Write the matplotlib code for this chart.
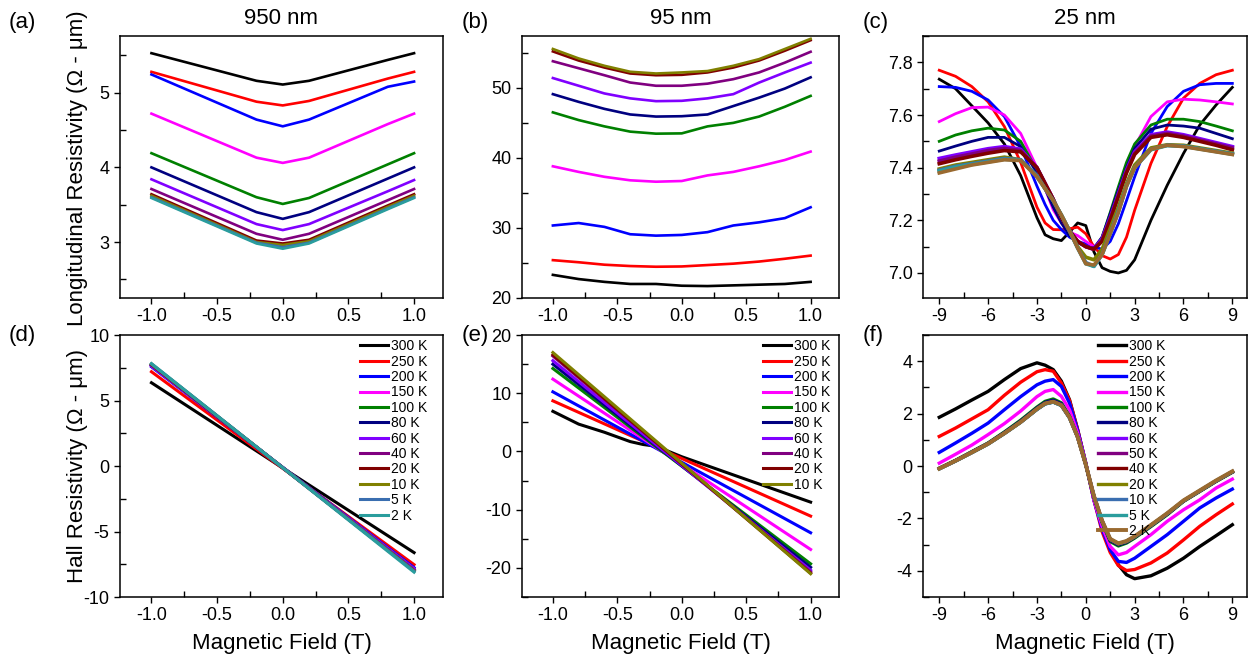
import matplotlib
matplotlib.use("Agg")
import matplotlib.pyplot as plt
from matplotlib.ticker import MultipleLocator

plt.rcParams['font.family'] = ['Liberation Sans', 'DejaVu Sans']
plt.rcParams['axes.unicode_minus'] = False

# ---- data ----
temps_12 = ["300 K", "250 K", "200 K", "150 K", "100 K", "80 K", "60 K",
            "40 K", "20 K", "10 K", "5 K", "2 K"]
temps_10 = ["300 K", "250 K", "200 K", "150 K", "100 K", "80 K", "60 K",
            "40 K", "20 K", "10 K"]
temps_13 = ["300 K", "250 K", "200 K", "150 K", "100 K", "80 K", "60 K",
            "50 K", "40 K", "20 K", "10 K", "5 K", "2 K"]

colors_12 = ["#000000", "#ff0000", "#0000ff", "#ff00ff", "#008000", "#000080",
             "#8000ff", "#800080", "#800000", "#808000", "#3a6eb0", "#2a9d9d"]
colors_10 = colors_12[:10]
colors_13 = ["#000000", "#ff0000", "#0000ff", "#ff00ff", "#008000", "#000080",
             "#8000ff", "#800080", "#800000", "#808000", "#3a6eb0", "#2a9d9d",
             "#9a6a30"]

# (a) 950 nm longitudinal
field_a = [-1.0, -0.2, 0.0, 0.2, 0.8, 1.0]
rxx_950 = [
    [5.53, 5.16, 5.11, 5.16, 5.44, 5.53],
    [5.28, 4.88, 4.83, 4.89, 5.19, 5.28],
    [5.245, 4.64, 4.55, 4.64, 5.08, 5.15],
    [4.72, 4.13, 4.06, 4.13, 4.58, 4.72],
    [4.19, 3.60, 3.51, 3.59, 4.04, 4.19],
    [4.00, 3.40, 3.31, 3.40, 3.85, 4.00],
    [3.84, 3.24, 3.16, 3.24, 3.68, 3.83],
    [3.71, 3.11, 3.03, 3.11, 3.56, 3.71],
    [3.64, 3.02, 2.98, 3.03, 3.49, 3.64],
    [3.62, 3.00, 2.96, 3.01, 3.47, 3.62],
    [3.60, 2.99, 2.93, 2.99, 3.45, 3.60],
    [3.59, 2.98, 2.91, 2.98, 3.44, 3.59],
]

# (b) 95 nm longitudinal
field_b = [-1.0, -0.8, -0.6, -0.4, -0.2, 0.0, 0.2, 0.4, 0.6, 0.8, 1.0]
rxx_95 = [
    [23.3, 22.7, 22.3, 22.0, 22.0, 21.75, 21.7, 21.8, 21.9, 22.0, 22.3],
    [25.4, 25.1, 24.75, 24.56, 24.46, 24.5, 24.7, 24.9, 25.2, 25.6, 26.05],
    [30.35, 30.7, 30.15, 29.1, 28.9, 29.0, 29.4, 30.35, 30.8, 31.4, 32.95],
    [38.8, 38.0, 37.3, 36.8, 36.6, 36.7, 37.5, 38.0, 38.8, 39.7, 40.9],
    [46.5, 45.4, 44.5, 43.75, 43.46, 43.5, 44.5, 45.0, 45.9, 47.3, 48.85],
    [49.1, 48.0, 47.0, 46.2, 45.9, 45.95, 46.2, 47.4, 48.6, 49.9, 51.5],
    [51.4, 50.3, 49.2, 48.5, 48.1, 48.15, 48.5, 49.1, 50.75, 52.2, 53.6],
    [53.8, 52.8, 51.8, 50.76, 50.3, 50.3, 50.6, 51.24, 52.2, 53.6, 55.15],
    [55.2, 53.9, 52.9, 52.05, 51.8, 51.86, 52.2, 52.9, 53.9, 55.3, 56.8],
    [55.55, 54.2, 53.15, 52.3, 52.05, 52.2, 52.4, 53.15, 54.1, 55.55, 57.0],
]

# (c), (f) 25 nm
field_c = [-9, -8, -7, -6, -5, -4, -3, -2.5, -2, -1.5, -1, -0.5, 0,
           0.5, 1, 1.5, 2, 2.5, 3, 4, 5, 6, 7, 8, 9]
rxx_25 = [
    [7.736, 7.70, 7.635, 7.57, 7.49, 7.37, 7.21, 7.145, 7.13, 7.123, 7.155, 7.19, 7.18,
     7.08, 7.02, 7.006, 7.0, 7.01, 7.05, 7.2, 7.333, 7.454, 7.562, 7.638, 7.705],
    [7.77, 7.747, 7.708, 7.65, 7.556, 7.42, 7.25, 7.19, 7.165, 7.164, 7.168, 7.174, 7.149,
     7.1, 7.066, 7.053, 7.07, 7.136, 7.238, 7.416, 7.556, 7.664, 7.72, 7.753, 7.77],
    [7.708, 7.705, 7.69, 7.657, 7.594, 7.48, 7.33, 7.26, 7.2, 7.165, 7.136, 7.12, 7.11,
     7.10, 7.09, 7.12, 7.187, 7.275, 7.365, 7.53, 7.632, 7.69, 7.715, 7.72, 7.72],
    [7.575, 7.605, 7.628, 7.63, 7.60, 7.53, 7.40, 7.32, 7.24, 7.19, 7.155, 7.142, 7.12,
     7.10, 7.12, 7.19, 7.295, 7.39, 7.48, 7.594, 7.65, 7.66, 7.657, 7.65, 7.642],
    [7.50, 7.524, 7.54, 7.55, 7.543, 7.50, 7.39, 7.33, 7.26, 7.20, 7.149, 7.12, 7.10,
     7.09, 7.136, 7.23, 7.327, 7.42, 7.49, 7.562, 7.584, 7.584, 7.575, 7.558, 7.54],
    [7.463, 7.482, 7.50, 7.515, 7.515, 7.48, 7.38, 7.32, 7.25, 7.19, 7.142, 7.115, 7.10,
     7.095, 7.136, 7.225, 7.314, 7.40, 7.473, 7.546, 7.562, 7.558, 7.55, 7.53, 7.51],
    [7.435, 7.448, 7.46, 7.472, 7.48, 7.47, 7.40, 7.34, 7.28, 7.21, 7.16, 7.12, 7.10,
     7.09, 7.13, 7.21, 7.30, 7.39, 7.46, 7.525, 7.535, 7.525, 7.51, 7.495, 7.48],
    [7.425, 7.44, 7.452, 7.465, 7.473, 7.465, 7.40, 7.34, 7.28, 7.21, 7.16, 7.12, 7.10,
     7.09, 7.125, 7.205, 7.295, 7.385, 7.455, 7.52, 7.53, 7.52, 7.505, 7.49, 7.475],
    [7.415, 7.43, 7.443, 7.455, 7.465, 7.46, 7.40, 7.34, 7.28, 7.21, 7.16, 7.12, 7.10,
     7.09, 7.12, 7.20, 7.29, 7.38, 7.45, 7.515, 7.525, 7.515, 7.50, 7.485, 7.468],
    [7.395, 7.41, 7.42, 7.43, 7.44, 7.43, 7.37, 7.32, 7.275, 7.22, 7.16, 7.10, 7.06,
     7.05, 7.09, 7.17, 7.25, 7.34, 7.41, 7.475, 7.487, 7.485, 7.475, 7.465, 7.455],
    [7.39, 7.405, 7.415, 7.425, 7.435, 7.43, 7.37, 7.32, 7.275, 7.22, 7.16, 7.095, 7.04,
     7.025, 7.07, 7.15, 7.235, 7.33, 7.40, 7.47, 7.485, 7.482, 7.472, 7.462, 7.452],
    [7.387, 7.402, 7.412, 7.422, 7.432, 7.428, 7.365, 7.32, 7.275, 7.22, 7.16, 7.095, 7.035,
     7.025, 7.07, 7.15, 7.232, 7.33, 7.40, 7.468, 7.484, 7.481, 7.471, 7.461, 7.451],
    [7.38, 7.395, 7.41, 7.42, 7.43, 7.427, 7.365, 7.32, 7.275, 7.22, 7.16, 7.095, 7.035,
     7.03, 7.07, 7.15, 7.23, 7.33, 7.40, 7.47, 7.485, 7.48, 7.47, 7.46, 7.45],
]

# (d) 950 nm Hall
field_d = [-1.0, 0.0, 1.0]
rxy_950 = [
    [6.36, -0.15, -6.61],
    [7.20, -0.18, -7.53],
    [7.58, -0.10, -7.76],
    [7.65, -0.12, -7.85],
    [7.70, -0.12, -7.90],
    [7.72, -0.13, -7.95],
    [7.68, -0.12, -7.90],
    [7.72, -0.14, -7.97],
    [7.75, -0.14, -8.00],
    [7.78, -0.12, -8.00],
    [7.80, -0.12, -8.03],
    [7.82, -0.14, -8.10],
]

# (e) 95 nm Hall
field_e_300 = [-1.0, -0.8, -0.6, -0.4, -0.3, -0.2, 0.0, 0.5, 1.0]
rxy_95_300 = [6.9, 4.7, 3.3, 1.7, 1.2, 0.9, -0.9, -4.8, -8.7]
field_e = [-1.0, 1.0]
rxy_95 = [
    [8.7, -11.1],
    [10.25, -13.96],
    [12.43, -16.83],
    [14.26, -19.3],
    [15.0, -19.9],
    [15.6, -20.4],
    [16.4, -20.7],
    [16.6, -20.9],
    [17.0, -21.0],
]

rxy_25 = [
    [1.86, 2.18, 2.52, 2.85, 3.30, 3.72, 3.94, 3.85, 3.68, 3.24, 2.53, 1.39, 0.11,
     -1.29, -2.30, -3.20, -3.77, -4.15, -4.30, -4.19, -3.90, -3.52, -3.07, -2.66, -2.24],
    [1.13, 1.45, 1.80, 2.15, 2.70, 3.20, 3.60, 3.68, 3.62, 3.17, 2.50, 1.38, 0.10,
     -1.29, -2.50, -3.30, -3.80, -3.99, -3.95, -3.70, -3.32, -2.82, -2.30, -1.86, -1.45],
    [0.52, 0.88, 1.25, 1.64, 2.15, 2.65, 3.10, 3.24, 3.30, 3.04, 2.40, 1.35, 0.10,
     -1.30, -2.40, -3.20, -3.64, -3.68, -3.52, -3.07, -2.62, -2.11, -1.60, -1.22, -0.88],
    [0.11, 0.45, 0.80, 1.20, 1.62, 2.10, 2.65, 2.85, 2.92, 2.66, 2.15, 1.26, 0.10,
     -1.30, -2.30, -3.07, -3.39, -3.30, -3.07, -2.62, -2.11, -1.67, -1.29, -0.84, -0.50],
    [-0.08, 0.22, 0.55, 0.88, 1.30, 1.75, 2.25, 2.47, 2.56, 2.41, 1.90, 1.13, 0.05,
     -1.20, -2.15, -2.88, -3.05, -2.94, -2.75, -2.31, -1.86, -1.35, -0.97, -0.59, -0.24],
    [-0.09, 0.21, 0.54, 0.87, 1.28, 1.72, 2.22, 2.43, 2.51, 2.38, 1.88, 1.12, 0.05,
     -1.18, -2.12, -2.84, -3.01, -2.91, -2.72, -2.29, -1.84, -1.34, -0.96, -0.58, -0.23],
    [-0.10, 0.20, 0.52, 0.85, 1.25, 1.68, 2.17, 2.38, 2.45, 2.32, 1.85, 1.10, 0.05,
     -1.15, -2.10, -2.80, -2.97, -2.88, -2.70, -2.27, -1.82, -1.33, -0.95, -0.57, -0.22],
    [-0.10, 0.20, 0.52, 0.85, 1.25, 1.68, 2.17, 2.38, 2.45, 2.32, 1.85, 1.10, 0.05,
     -1.15, -2.10, -2.80, -2.97, -2.88, -2.70, -2.27, -1.82, -1.33, -0.95, -0.57, -0.22],
    [-0.10, 0.20, 0.52, 0.85, 1.25, 1.68, 2.17, 2.38, 2.45, 2.32, 1.85, 1.10, 0.05,
     -1.15, -2.10, -2.80, -2.97, -2.88, -2.70, -2.27, -1.82, -1.33, -0.95, -0.57, -0.22],
    [-0.10, 0.20, 0.52, 0.85, 1.25, 1.68, 2.17, 2.38, 2.45, 2.32, 1.85, 1.10, 0.05,
     -1.15, -2.10, -2.80, -2.97, -2.88, -2.70, -2.27, -1.82, -1.33, -0.95, -0.57, -0.22],
    [-0.11, 0.19, 0.51, 0.84, 1.24, 1.67, 2.16, 2.37, 2.44, 2.31, 1.84, 1.10, 0.05,
     -1.14, -2.09, -2.79, -2.96, -2.87, -2.69, -2.26, -1.81, -1.32, -0.94, -0.56, -0.21],
    [-0.11, 0.19, 0.51, 0.84, 1.24, 1.67, 2.16, 2.37, 2.44, 2.31, 1.84, 1.10, 0.05,
     -1.14, -2.09, -2.79, -2.96, -2.87, -2.69, -2.26, -1.81, -1.32, -0.94, -0.56, -0.21],
    [-0.10, 0.20, 0.52, 0.85, 1.25, 1.68, 2.18, 2.39, 2.46, 2.33, 1.86, 1.11, 0.05,
     -1.14, -2.08, -2.78, -2.95, -2.86, -2.68, -2.25, -1.80, -1.31, -0.93, -0.55, -0.20],
]

# ---- figure ----
fig = plt.figure(figsize=(12.52, 6.61), dpi=100)
lefts = [0.0958, 0.4169, 0.7372]
widths = [0.2580, 0.2532, 0.2588]
top_b, bot_b, h = 0.5492, 0.0968, 0.3963
axes_top = [fig.add_axes([lefts[i], top_b, widths[i], h]) for i in range(3)]
axes_bot = [fig.add_axes([lefts[i], bot_b, widths[i], h]) for i in range(3)]
axa, axb, axc = axes_top
axd, axe, axf = axes_bot

for ys, c in zip(rxx_950, colors_12):
    axa.plot(field_a, ys, color=c, lw=1.9)
for ys, c in zip(rxx_95, colors_10):
    axb.plot(field_b, ys, color=c, lw=1.9)
for i, (ys, c) in enumerate(zip(rxx_25, colors_13)):
    axc.plot(field_c, ys, color=c, lw=2.0 if i < 6 else 2.6)

for ys, c, lab in zip(rxy_950, colors_12, temps_12):
    axd.plot(field_d, ys, color=c, lw=2.2, label=lab)
axe.plot(field_e_300, rxy_95_300, color=colors_10[0], lw=2.2, label=temps_10[0])
for ys, c, lab in zip(rxy_95, colors_10[1:], temps_10[1:]):
    axe.plot(field_e, ys, color=c, lw=2.2, label=lab)
for i, (ys, c, lab) in enumerate(zip(rxy_25, colors_13, temps_13)):
    axf.plot(field_c, ys, color=c, lw=2.4 if i < 12 else 2.8, label=lab)

# limits and ticks
for ax in (axa, axb, axd, axe):
    ax.set_xlim(-1.24, 1.22)
    ax.xaxis.set_major_locator(MultipleLocator(0.5))
    ax.xaxis.set_minor_locator(MultipleLocator(0.25))
    ax.xaxis.set_major_formatter(plt.FuncFormatter(lambda v, p: f"{v:.1f}"))
for ax in (axc, axf):
    ax.set_xlim(-10.0, 9.9)
    ax.xaxis.set_major_locator(MultipleLocator(3))
    ax.xaxis.set_minor_locator(MultipleLocator(1.5))

axa.set_ylim(2.25, 5.76)
axa.yaxis.set_major_locator(MultipleLocator(1))
axa.yaxis.set_minor_locator(MultipleLocator(0.5))
axb.set_ylim(20, 57.4)
axb.yaxis.set_major_locator(MultipleLocator(10))
axb.yaxis.set_minor_locator(MultipleLocator(5))
axc.set_ylim(6.905, 7.9)
axc.yaxis.set_major_locator(MultipleLocator(0.2))
axc.yaxis.set_minor_locator(MultipleLocator(0.1))
axc.yaxis.set_major_formatter(plt.FuncFormatter(lambda v, p: f"{v:.1f}"))
axd.set_ylim(-10, 10)
axd.yaxis.set_major_locator(MultipleLocator(5))
axd.yaxis.set_minor_locator(MultipleLocator(2.5))
axe.set_ylim(-25, 20)
axe.yaxis.set_major_locator(MultipleLocator(10))
axe.yaxis.set_minor_locator(MultipleLocator(5))
axf.set_ylim(-5, 5)
axf.yaxis.set_major_locator(MultipleLocator(2))
axf.yaxis.set_minor_locator(MultipleLocator(1))

for ax in axes_top + axes_bot:
    ax.tick_params(which='major', direction='out', length=4, width=1, labelsize=13)
    ax.tick_params(which='minor', direction='in', length=4, width=1)
    ax.tick_params(top=False, right=False)
    for s in ax.spines.values():
        s.set_linewidth(1.1)

for ax in axes_bot:
    ax.set_xlabel("Magnetic Field (T)", fontsize=16, labelpad=6)

for ax, t in zip(axes_top, ["950 nm", "95 nm", "25 nm"]):
    ax.set_title(t, fontsize=16, pad=9)

fig.text(0.062, 0.745, "Longitudinal Resistivity (Ω - μm)", rotation=90,
         fontsize=16, ha='center', va='center')
fig.text(0.062, 0.295, "Hall Resistivity (Ω - μm)", rotation=90,
         fontsize=16, ha='center', va='center')

for lab, x, y in [("(a)", 0.007, 0.966), ("(b)", 0.369, 0.966), ("(c)", 0.689, 0.966),
                  ("(d)", 0.007, 0.493), ("(e)", 0.369, 0.493), ("(f)", 0.689, 0.493)]:
    fig.text(x, y, lab, fontsize=16, ha='left', va='center')

leg_kw = dict(loc='upper right', frameon=False, fontsize=10, handlelength=2.0,
              handletextpad=0.2, labelspacing=0.1, borderaxespad=0.0, borderpad=0.3)
axd.legend(bbox_to_anchor=(0.965, 1.0), **leg_kw)
axe.legend(bbox_to_anchor=(0.985, 1.0), **leg_kw)
axf.legend(bbox_to_anchor=(0.76, 1.0), **leg_kw)

fig.savefig("out.png", dpi=100)
